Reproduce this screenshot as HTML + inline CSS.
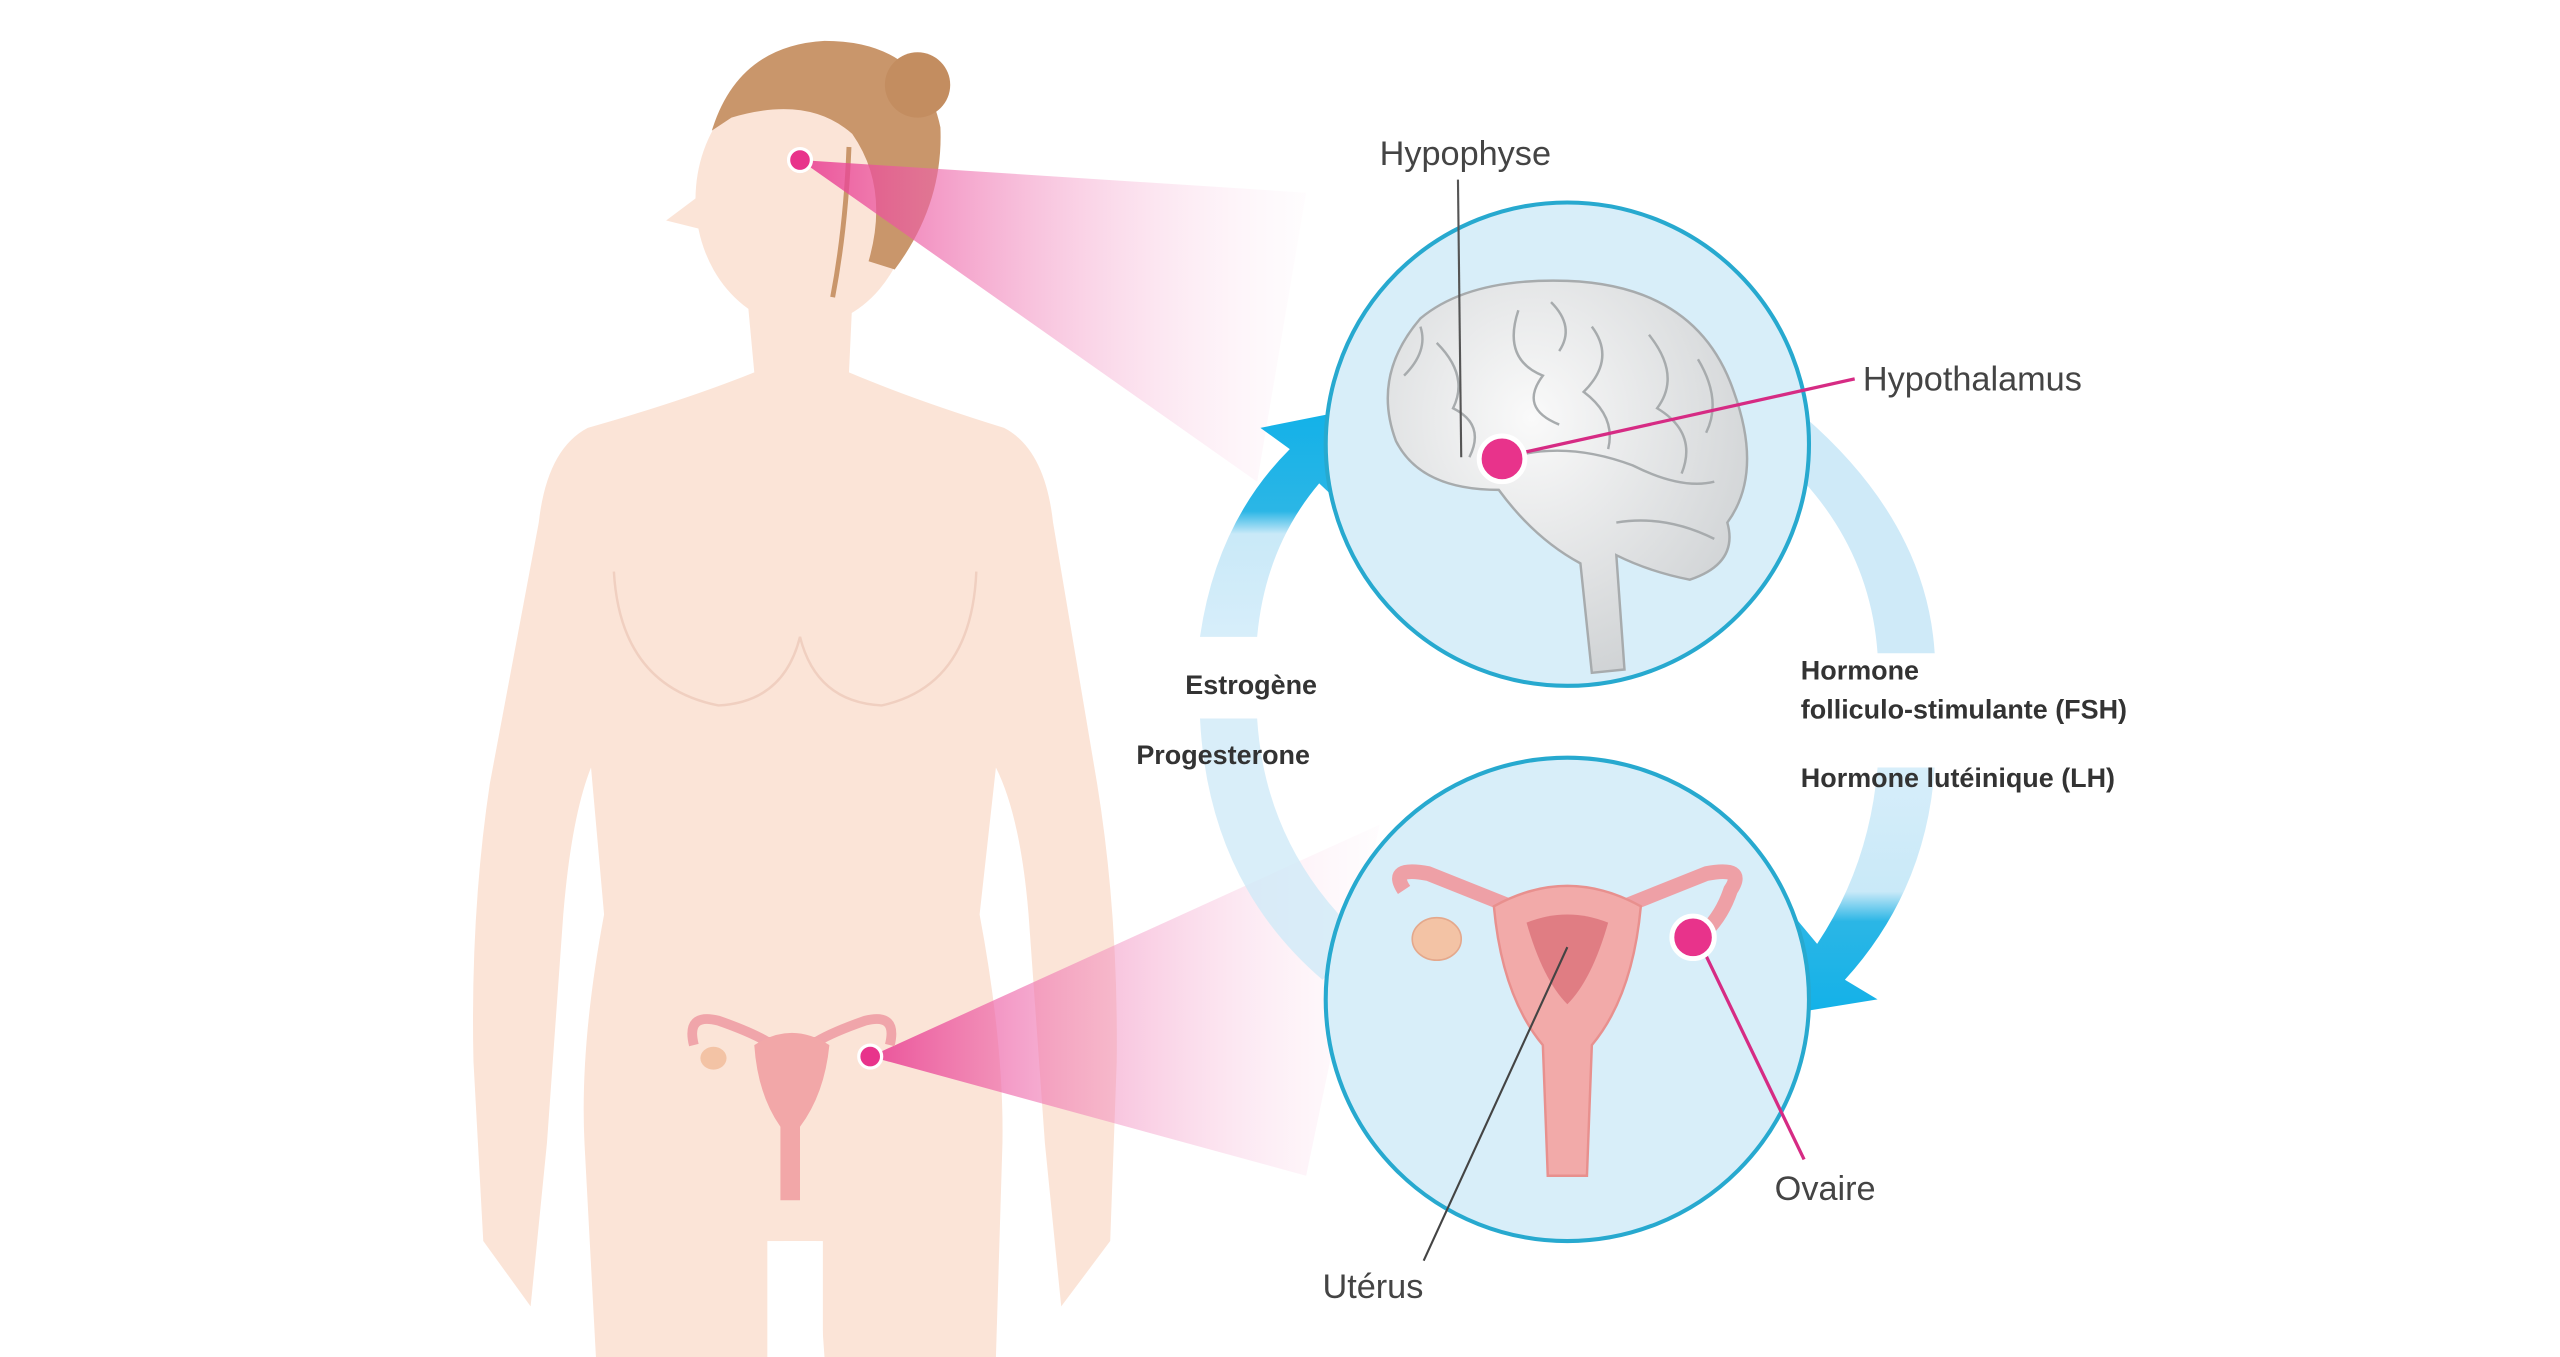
<!DOCTYPE html>
<html><head><meta charset="utf-8"><style>html,body{margin:0;padding:0;background:#fff}svg{display:block}</style></head>
<body>
<svg width="2560" height="1357" viewBox="0 0 1568 831" preserveAspectRatio="none" xmlns="http://www.w3.org/2000/svg" font-family="Liberation Sans, sans-serif">
<defs>
<linearGradient id="cone1" x1="0" y1="0" x2="1" y2="0"><stop offset="0" stop-color="#e8388f"/><stop offset="1" stop-color="#fbe0ee" stop-opacity="0.1"/></linearGradient>
<linearGradient id="arrL" x1="0" y1="1" x2="0" y2="0"><stop offset="0" stop-color="#d7eefa"/><stop offset="0.45" stop-color="#c9e9f8"/><stop offset="0.55" stop-color="#2bb6e6"/><stop offset="1" stop-color="#12b1e8"/></linearGradient>
<linearGradient id="arrR" x1="0" y1="0" x2="0" y2="1"><stop offset="0" stop-color="#d7eefa"/><stop offset="0.5" stop-color="#c9e9f8"/><stop offset="0.62" stop-color="#2bb6e6"/><stop offset="1" stop-color="#12b1e8"/></linearGradient>
<radialGradient id="brain" cx="0.4" cy="0.35" r="0.7"><stop offset="0" stop-color="#fafafa"/><stop offset="1" stop-color="#cfd2d4"/></radialGradient>
</defs>
<rect width="1568" height="831" fill="#fff"/>
<!-- body -->
<g fill="#fbe4d7">
<ellipse cx="492" cy="122" rx="66" ry="78"/>
<path d="M428 120 L408 135 L428 140 Z"/>
<path d="M458 185 L462 228 Q420 245 360 262 Q335 275 330 320 L300 480 Q288 560 290 650 L296 760 L325 800 L335 700 L345 560 Q350 500 362 470 L370 560 Q355 640 358 700 L365 831 L475 831 L480 760 L500 760 L505 831 L610 831 L614 700 Q615 640 600 560 L610 470 Q625 500 630 560 L640 700 L650 800 L680 760 L684 650 Q685 560 672 480 L645 320 Q640 275 615 262 Q560 245 520 228 L522 185 Z"/>
</g>
<rect x="470" y="760" width="34" height="71" fill="#fff"/>
<path d="M376 350 Q380 420 440 432 Q480 430 490 390 Q500 430 540 432 Q595 420 598 350" fill="none" stroke="#f0cfc0" stroke-width="1.5"/>
<path d="M436 80 Q452 28 505 25 Q565 25 576 78 Q578 125 548 165 L532 160 Q545 115 522 82 Q495 58 448 72 Z" fill="#c9966b"/>
<path d="M520 90 Q518 140 510 182" fill="none" stroke="#c9966b" stroke-width="3"/>
<circle cx="562" cy="52" r="20" fill="#c38d60"/>
<!-- cones -->
<polygon points="490,98 800,118 770,295" fill="url(#cone1)" opacity="0.85"/>
<polygon points="533,647 845,505 800,720" fill="url(#cone1)" opacity="0.85"/>
<circle cx="490" cy="98" r="7" fill="#e8338b" stroke="#fff" stroke-width="2"/>
<!-- small uterus -->
<g>
<path d="M425 640 Q420 620 440 625 Q460 632 470 638 L500 638 Q510 632 530 625 Q550 620 545 640" fill="none" stroke="#f0a5aa" stroke-width="6"/>
<path d="M462 640 Q485 625 508 640 Q505 670 490 690 L490 735 L478 735 L478 690 Q464 670 462 640Z" fill="#f2a7a8"/>
<ellipse cx="437" cy="648" rx="8" ry="7" fill="#f3c3a5"/>
</g>
<circle cx="533" cy="647" r="7" fill="#e8338b" stroke="#fff" stroke-width="2"/>
<!-- arrows -->
<path d="M735 390 Q745 320 790 275 L772 262 L832 250 L825 312 L808 296 Q775 335 770 390 Z" fill="url(#arrL)"/>
<path d="M735 440 Q740 540 810 600 L835 575 Q775 520 770 440 Z" fill="#cfeaf8" opacity="0.8"/>
<path d="M1105 255 Q1180 320 1185 400 L1150 400 Q1145 330 1090 280 Z" fill="#cfeaf8"/>
<path d="M1185 470 Q1180 545 1130 600 L1150 612 L1088 622 L1098 560 L1113 578 Q1145 530 1150 470 Z" fill="url(#arrR)"/>
<!-- circles -->
<circle cx="960" cy="272" r="148" fill="#d8eef9" stroke="#27a9cf" stroke-width="2.5"/>
<circle cx="960" cy="612" r="148" fill="#d8eef9" stroke="#27a9cf" stroke-width="2.5"/>
<!-- brain -->
<path d="M870 195 Q900 170 960 172 Q1040 175 1062 240 Q1080 290 1058 320 Q1065 345 1035 355 Q1010 350 990 340 L995 410 L975 412 L968 345 Q940 330 918 300 Q870 300 855 270 Q840 230 870 195Z" fill="url(#brain)" stroke="#a7abad" stroke-width="1.5"/>
<g fill="none" stroke="#a7abad" stroke-width="1.5">
<path d="M880 210 Q900 230 890 250 Q910 260 900 280"/><path d="M930 190 Q920 220 945 230 Q930 250 955 260"/><path d="M975 200 Q990 220 970 240 Q990 255 985 275"/><path d="M1010 205 Q1030 230 1015 250 Q1040 265 1030 290"/><path d="M925 280 Q960 270 1000 285 Q1030 300 1050 295"/><path d="M990 320 Q1020 315 1050 330"/>
<path d="M860 230 Q875 215 870 200"/><path d="M950 185 Q965 200 955 215"/><path d="M1040 220 Q1055 245 1045 265"/>
</g>
<line x1="893" y1="110" x2="895" y2="280" stroke="#555" stroke-width="1.3"/>
<line x1="920" y1="280" x2="1136" y2="232" stroke="#d62b84" stroke-width="2"/>
<circle cx="920" cy="281" r="14" fill="#e8338b" stroke="#fff" stroke-width="3"/>
<!-- uterus big -->
<g>
<path d="M860 545 Q850 530 875 535 Q900 545 925 555 L995 555 Q1020 545 1045 535 Q1070 530 1060 545 Q1055 560 1045 570" fill="none" stroke="#eea0a6" stroke-width="9"/>
<path d="M915 555 Q960 530 1005 555 Q1000 610 975 640 L972 720 L948 720 L945 640 Q920 610 915 555Z" fill="#f2aaa9" stroke="#e8908e" stroke-width="1.5"/>
<path d="M935 565 Q960 555 985 565 Q975 600 960 615 Q945 600 935 565Z" fill="#e07d83"/>
<ellipse cx="880" cy="575" rx="15" ry="13" fill="#f3c3a5" stroke="#e4a88c"/>
</g>
<line x1="960" y1="580" x2="872" y2="772" stroke="#444" stroke-width="1.3"/>
<line x1="1040" y1="575" x2="1105" y2="710" stroke="#d62b84" stroke-width="2"/>
<circle cx="1037" cy="574" r="13" fill="#e8338b" stroke="#fff" stroke-width="3"/>
<!-- text -->
<g fill="#444" font-size="21">
<text x="845" y="101">Hypophyse</text>
<text x="1141" y="239">Hypothalamus</text>
<text x="1087" y="735">Ovaire</text>
<text x="810" y="795">Utérus</text>
</g>
<g fill="#333" font-size="16.5" font-weight="bold">
<text x="726" y="425">Estrogène</text>
<text x="696" y="468">Progesterone</text>
<text x="1103" y="416">Hormone</text>
<text x="1103" y="440">folliculo-stimulante (FSH)</text>
<text x="1103" y="482">Hormone  lutéinique (LH)</text>
</g>
</svg>
</body></html>
